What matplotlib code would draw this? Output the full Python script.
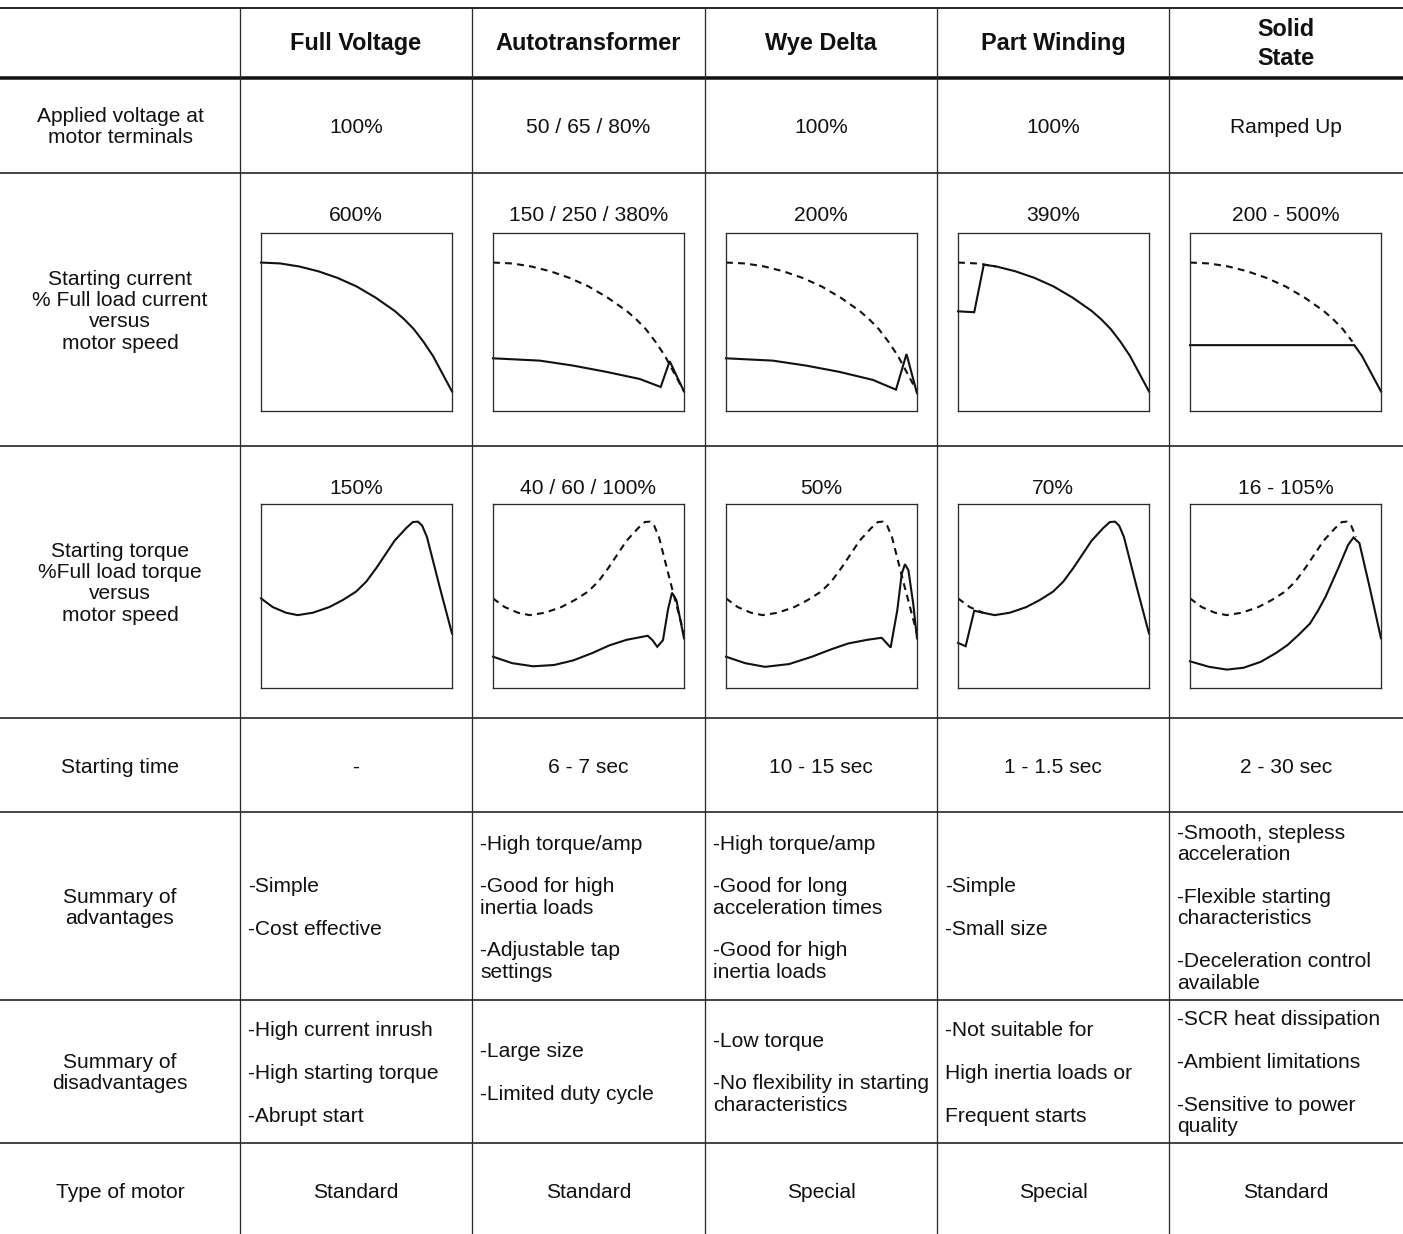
import numpy as np
import matplotlib
matplotlib.use('Agg')
import matplotlib.pyplot as plt

plt.rcParams['font.family'] = ['Liberation Sans', 'DejaVu Sans']

W, H = 1403, 1234
fs_body = 15.1
fs_head = 16.9
lw_curve = 1.5
ink = '#111111'
rule = '#2a2a2a'

# ---- table content ----
methods = ['Full Voltage', 'Autotransformer', 'Wye Delta', 'Part Winding', 'Solid\nState']
row_labels = ['Applied voltage at\nmotor terminals',
              'Starting current\n% Full load current\nversus\nmotor speed',
              'Starting torque\n%Full load torque\nversus\nmotor speed',
              'Starting time',
              'Summary of\nadvantages',
              'Summary of\ndisadvantages',
              'Type of motor']
applied_voltage = ['100%', '50 / 65 / 80%', '100%', '100%', 'Ramped Up']
current_labels = ['600%', '150 / 250 / 380%', '200%', '390%', '200 - 500%']
torque_labels = ['150%', '40 / 60 / 100%', '50%', '70%', '16 - 105%']
start_time = ['-', '6 - 7 sec', '10 - 15 sec', '1 - 1.5 sec', '2 - 30 sec']
advantages = [
    ['-Simple', '', '-Cost effective'],
    ['-High torque/amp', '', '-Good for high', 'inertia loads', '', '-Adjustable tap', 'settings'],
    ['-High torque/amp', '', '-Good for long', 'acceleration times', '', '-Good for high', 'inertia loads'],
    ['-Simple', '', '-Small size'],
    ['-Smooth, stepless', 'acceleration', '', '-Flexible starting', 'characteristics', '',
     '-Deceleration control', 'available'],
]
disadvantages = [
    ['-High current inrush', '', '-High starting torque', '', '-Abrupt start'],
    ['-Large size', '', '-Limited duty cycle'],
    ['-Low torque', '', '-No flexibility in starting', 'characteristics'],
    ['-Not suitable for', '', 'High inertia loads or', '', 'Frequent starts'],
    ['-SCR heat dissipation', '', '-Ambient limitations', '', '-Sensitive to power', 'quality'],
]
motor_type = ['Standard', 'Standard', 'Special', 'Special', 'Standard']

# ---- curves (normalised speed 0..1, value 0..1 of the little box) ----
fv_cur_x = np.array([0, 0.1, 0.2, 0.3, 0.4, 0.5, 0.6, 0.7, 0.75, 0.8, 0.85, 0.9, 0.94, 0.97, 1.0])
fv_cur_y = np.array([0.834, 0.829, 0.812, 0.785, 0.748, 0.70, 0.637, 0.562, 0.515, 0.46, 0.39, 0.31, 0.23, 0.17, 0.11])

auto_cur_x = [0, 0.245, 0.42, 0.593, 0.768, 0.878, 0.925, 1.0]
auto_cur_y = [0.296, 0.283, 0.255, 0.22, 0.18, 0.135, 0.28, 0.11]
wye_cur_x = [0, 0.245, 0.42, 0.593, 0.768, 0.89, 0.945, 1.0]
wye_cur_y = [0.296, 0.283, 0.255, 0.22, 0.175, 0.12, 0.32, 0.10]
pw_cur_x = [0, 0.085, 0.135]
pw_cur_y = [0.56, 0.555, 0.822]
ss_cur_x = [0, 0.86]
ss_cur_y = [0.37, 0.37]

fv_trq_x = np.array([0, 0.061, 0.131, 0.192, 0.271, 0.358, 0.428, 0.498, 0.551, 0.603, 0.656,
                     0.699, 0.76, 0.795, 0.822, 0.844, 0.869, 0.935, 1.0])
fv_trq_y = np.array([0.487, 0.44, 0.409, 0.396, 0.409, 0.44, 0.478, 0.524, 0.578, 0.651, 0.733,
                     0.80, 0.869, 0.902, 0.904, 0.882, 0.82, 0.551, 0.296])

auto_trq_x = [0, 0.1, 0.21, 0.32, 0.42, 0.52, 0.61, 0.70, 0.81, 0.835, 0.86, 0.89, 0.916, 0.937, 0.96, 1.0]
auto_trq_y = [0.17, 0.135, 0.118, 0.125, 0.15, 0.19, 0.232, 0.262, 0.284, 0.26, 0.224, 0.26, 0.425, 0.518, 0.478, 0.27]
wye_trq_x = [0, 0.1, 0.204, 0.33, 0.45, 0.55, 0.64, 0.74, 0.815, 0.862, 0.897, 0.92, 0.937, 0.955, 0.98, 1.0]
wye_trq_y = [0.17, 0.135, 0.115, 0.13, 0.17, 0.21, 0.242, 0.262, 0.273, 0.22, 0.424, 0.62, 0.673, 0.64, 0.46, 0.27]
pw_trq_x = [0, 0.04, 0.085]
pw_trq_y = [0.245, 0.227, 0.42]
ss_trq_x = [0, 0.1, 0.193, 0.28, 0.37, 0.45, 0.51, 0.57, 0.628, 0.67, 0.71, 0.78, 0.828, 0.856, 0.887, 0.94, 1.0]
ss_trq_y = [0.145, 0.115, 0.10, 0.11, 0.142, 0.19, 0.233, 0.29, 0.35, 0.42, 0.496, 0.66, 0.778, 0.818, 0.787, 0.55, 0.27]

# dashed full-voltage reference drawn up to this speed (None = not drawn)
cur_dash_limit = [None, 1.0, 1.0, 0.2, 0.86]
trq_dash_limit = [None, 1.0, 1.0, 0.131, 0.87]


def join(x0, y0, rx, ry, after):
    m = rx > after
    return np.concatenate([x0, rx[m]]), np.concatenate([y0, ry[m]])


cur_solid = [(fv_cur_x, fv_cur_y), (auto_cur_x, auto_cur_y), (wye_cur_x, wye_cur_y),
             join(pw_cur_x, pw_cur_y, fv_cur_x, fv_cur_y, 0.135),
             join(ss_cur_x, ss_cur_y, fv_cur_x, fv_cur_y, 0.86)]
trq_solid = [(fv_trq_x, fv_trq_y), (auto_trq_x, auto_trq_y), (wye_trq_x, wye_trq_y),
             join(pw_trq_x, pw_trq_y, fv_trq_x, fv_trq_y, 0.1),
             (ss_trq_x, ss_trq_y)]

# ---- layout (pixels) ----
col_left = [240, 472, 705, 937, 1169]
col_right = [472, 705, 937, 1169, W]
col_mid = [(a + b) / 2 for a, b in zip(col_left, col_right)]
label_x = 120
row_lines = [173, 446, 718, 812, 1000, 1143]
step = 21.4

fig = plt.figure(figsize=(W / 100, H / 100), dpi=100)
bg = fig.add_axes([0, 0, 1, 1])
bg.set_xlim(0, W)
bg.set_ylim(H, 0)
bg.axis('off')

px = 0.72  # points per pixel at 100 dpi
bg.plot([0, W], [8, 8], color=rule, lw=2 * px)
bg.plot([0, W], [78, 78], color=ink, lw=3.5 * px)
for y in row_lines:
    bg.plot([0, W], [y, y], color=rule, lw=1.7 * px)
for x in col_left:
    bg.plot([x, x], [8, H], color=rule, lw=1.3 * px)


def block(x, yc, lines, ha='center', dy=step, fontsize=fs_body, fontweight='normal'):
    n = len(lines)
    for i, s in enumerate(lines):
        if s:
            bg.text(x, yc + 1.2 + (i - (n - 1) / 2) * dy, s, ha=ha, va='center',
                    fontsize=fontsize, fontweight=fontweight, color=ink)


# headers
for m, x in zip(methods, col_mid):
    block(x, 42.5, m.split('\n'), dy=29, fontsize=fs_head, fontweight='bold')

# row labels
label_y = [126, 310, 582, 766, 907, 1072, 1191]
for lab, y in zip(row_labels, label_y):
    block(label_x, y, lab.split('\n'))

for i in range(5):
    block(col_mid[i], 126, [applied_voltage[i]])
    block(col_mid[i], 214, [current_labels[i]])
    block(col_mid[i], 487, [torque_labels[i]])
    block(col_mid[i], 766, [start_time[i]])
    block(col_mid[i], 1191, [motor_type[i]])
    block(col_left[i] + 8, 907, advantages[i], ha='left')
    block(col_left[i] + 8, 1072, disadvantages[i], ha='left')


def small_axes(left, top, w, h):
    ax = fig.add_axes([left / W, 1 - (top + h) / H, w / W, h / H])
    ax.set_xlim(0, 1)
    ax.set_ylim(0, 1)
    ax.set_xticks([])
    ax.set_yticks([])
    for s in ax.spines.values():
        s.set_linewidth(1.3 * px)
        s.set_color(rule)
    return ax


def draw(ax, rx, ry, lim, solid):
    rx = np.asarray(rx)
    ry = np.asarray(ry)
    if lim is not None:
        m = rx <= lim
        ax.plot(rx[m], ry[m], color=ink, lw=lw_curve, ls=(0, (3.3, 2.5)))
    ax.plot(solid[0], solid[1], color=ink, lw=lw_curve, solid_joinstyle='miter', clip_on=False)


for i in range(5):
    a1 = small_axes(col_left[i] + 21, 233, 191, 178)
    draw(a1, fv_cur_x, fv_cur_y, cur_dash_limit[i], cur_solid[i])
    a2 = small_axes(col_left[i] + 21, 504, 191, 184)
    draw(a2, fv_trq_x, fv_trq_y, trq_dash_limit[i], trq_solid[i])

fig.savefig('out.png', dpi=100)
